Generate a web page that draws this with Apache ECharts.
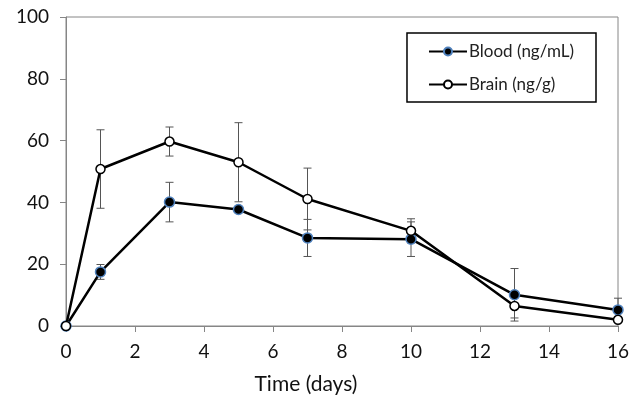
<!DOCTYPE html>
<html lang="en">
	<head>
		<meta charset="UTF-8">
		<title>Time course</title>
		<script src="https://cdn.jsdelivr.net/npm/echarts@6/dist/echarts.min.js"></script>
		<style>
			body { margin: 0; background: #fff; }
			#main { width: 641px; height: 400px; }
		</style>
	</head>
	<body>
		<div id="main"></div>
	</body>
	<script>
		// days after dosing
		let days = [0, 1, 3, 5, 7, 10, 13, 16];
		let bloodMean = [0, 17.5, 40.1, 37.7, 28.5, 28.1, 10.1, 5.2];
		let bloodErr = [0, 2.4, 6.4, 1.0, 6.0, 5.6, 8.5, 3.8];
		let brainMean = [0, 50.8, 59.7, 53.0, 41.1, 30.8, 6.5, 2.0];
		let brainErr = [0, 12.7, 4.7, 12.8, 10.0, 3.9, 3.9, 0];
		let names = ["Blood (ng/mL)", "Brain (ng/g)"];

		function pairs(mean) {
			return days.map((d, i) => [d, mean[i]]);
		}

		function bars(mean, err) {
			let out = [];
			for (let i = 0; i < days.length; i++) {
				if (err[i] > 0) out.push([days[i], mean[i] - err[i], mean[i] + err[i]]);
			}
			return out;
		}

		function renderErr(params, api) {
			let top = api.coord([api.value(0), api.value(2)]);
			let bot = api.coord([api.value(0), api.value(1)]);
			let w = 4;
			let style = { stroke: "#555", lineWidth: 1 };
			return {
				type: "group",
				children: [
					{ type: "line", shape: { x1: top[0], y1: top[1], x2: bot[0], y2: bot[1] }, style: style },
					{ type: "line", shape: { x1: top[0] - w, y1: top[1], x2: top[0] + w, y2: top[1] }, style: style },
					{ type: "line", shape: { x1: bot[0] - w, y1: bot[1], x2: bot[0] + w, y2: bot[1] }, style: style }
				]
			};
		}

		let font = "Lato, 'Open Sans', sans-serif";
		let option = {
			animation: false,
			grid: {
				left: 66, right: 23, top: 17, bottom: 72,
				show: true, borderColor: "#868686", borderWidth: 1
			},
			legend: {
				data: names,
				orient: "vertical",
				right: 45, top: 33,
				padding: [10, 22, 9, 21],
				itemGap: 16,
				itemWidth: 38,
				itemHeight: 10,
				borderColor: "#000",
				borderWidth: 1.5,
				borderRadius: 0,
				textStyle: { fontFamily: font, fontSize: 17, color: "#222", padding: [0, 0, 0, -3] }
			},
			xAxis: {
				type: "value",
				min: 0, max: 16, interval: 2,
				name: "Time (days)",
				nameLocation: "middle",
				nameGap: 48,
				nameTextStyle: { fontFamily: font, fontSize: 21, color: "#111", padding: [0, 72, 0, 0] },
				axisLine: { lineStyle: { color: "#868686", width: 1 } },
				axisTick: { show: true, inside: false, length: 6, lineStyle: { color: "#868686" } },
				axisLabel: { fontFamily: font, fontSize: 19, color: "#111", margin: 16 },
				splitLine: { show: false }
			},
			yAxis: {
				type: "value",
				min: 0, max: 100, interval: 20,
				axisLine: { show: true, lineStyle: { color: "#868686", width: 1 } },
				axisTick: { show: true, inside: false, length: 6, lineStyle: { color: "#868686" } },
				axisLabel: { fontFamily: font, fontSize: 19, color: "#111", margin: 17 },
				splitLine: { show: false }
			},
			series: [
				{
					type: "custom", name: "bloodErr", renderItem: renderErr,
					data: bars(bloodMean, bloodErr), z: 1, silent: true
				},
				{
					type: "custom", name: "brainErr", renderItem: renderErr,
					data: bars(brainMean, brainErr), z: 1, silent: true
				},
				{
					name: names[0], type: "line", data: pairs(bloodMean),
					symbol: "circle", symbolSize: 10, z: 3,
					lineStyle: { color: "#000", width: 2.5 },
					itemStyle: { color: "#000", borderColor: "#4f81bd", borderWidth: 1.5 }
				},
				{
					name: names[1], type: "line", data: pairs(brainMean),
					symbol: "circle", symbolSize: 9, z: 4,
					lineStyle: { color: "#000", width: 2.5 },
					itemStyle: { color: "#fff", borderColor: "#000", borderWidth: 1.5 }
				}
			]
		};

		let chart = echarts.init(document.getElementById("main"));
		chart.setOption(option);
	</script>
</html>
